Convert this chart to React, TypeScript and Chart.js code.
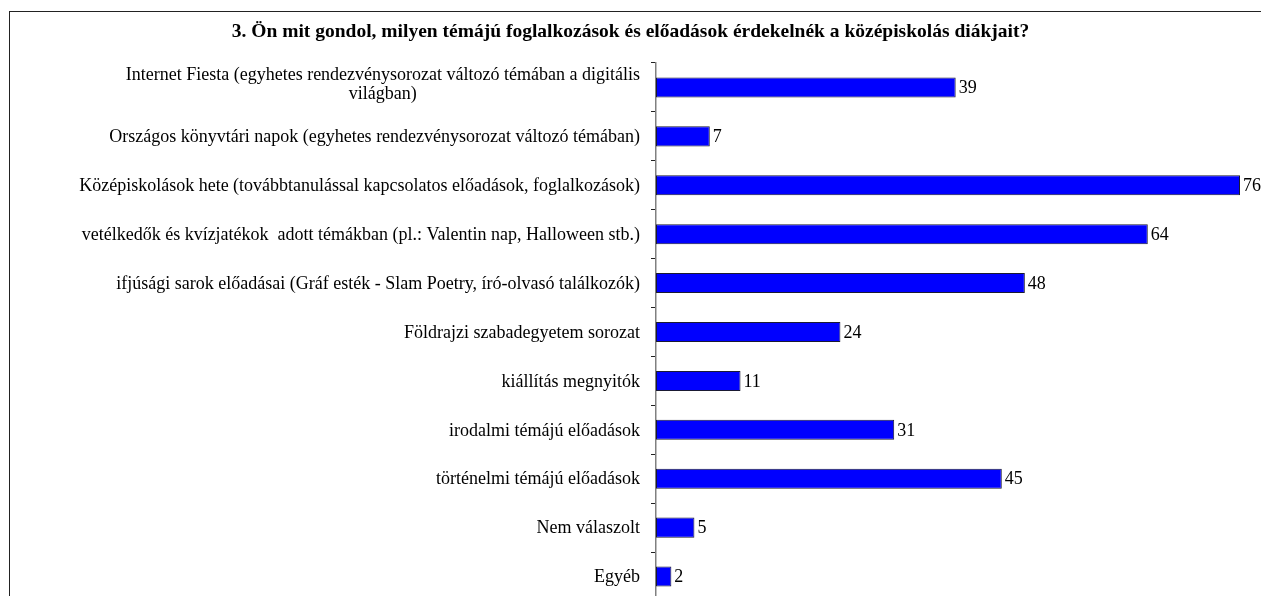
import React, { useEffect, useRef } from "react";
import { Chart, registerables } from "chart.js";

Chart.register(...registerables);

const titleText =
  "3. Ön mit gondol, milyen témájú foglalkozások és előadások érdekelnék a középiskolás diákjait?";

const categories: (string | string[])[] = [
  ["Internet Fiesta (egyhetes rendezvénysorozat változó témában a digitális", "világban)"],
  "Országos könyvtári napok (egyhetes rendezvénysorozat változó témában)",
  "Középiskolások hete (továbbtanulással kapcsolatos előadások, foglalkozások)",
  "vetélkedők és kvízjatékok  adott témákban (pl.: Valentin nap, Halloween stb.)",
  "ifjúsági sarok előadásai (Gráf esték - Slam Poetry, író-olvasó találkozók)",
  "Földrajzi szabadegyetem sorozat",
  "kiállítás megnyitók",
  "irodalmi témájú előadások",
  "történelmi témájú előadások",
  "Nem válaszolt",
  "Egyéb",
];

const values = [39, 7, 76, 64, 48, 24, 11, 31, 45, 5, 2];

const xMax = 76;
const FONT = "18px 'Liberation Serif', 'Times New Roman', serif";
const TITLE_FONT = "bold 19.5px 'Liberation Serif', 'Times New Roman', serif";

const decorPlugin = {
  id: "decor",
  beforeDraw(chart: any) {
    const ctx = chart.ctx;
    ctx.save();
    ctx.fillStyle = "#ffffff";
    ctx.fillRect(0, 0, chart.width, chart.height);
    ctx.strokeStyle = "#222222";
    ctx.lineWidth = 1;
    ctx.strokeRect(9.5, 11.5, chart.width + 20, chart.height + 20);
    ctx.fillStyle = "#000000";
    ctx.font = TITLE_FONT;
    ctx.textAlign = "center";
    ctx.textBaseline = "middle";
    ctx.fillText(titleText, 630.5, 32);
    ctx.restore();
  },
  afterDraw(chart: any) {
    const ctx = chart.ctx;
    const yScale = chart.scales.y;
    const meta = chart.getDatasetMeta(0);
    ctx.save();
    ctx.fillStyle = "#000000";
    ctx.font = FONT;
    ctx.textBaseline = "middle";
    const rightX = chart.chartArea.left - 16;
    const lineH = 19;
    categories.forEach((lab, i) => {
      const lines = Array.isArray(lab) ? lab : [lab];
      const widest = Math.max(...lines.map((l) => ctx.measureText(l).width));
      const cy = yScale.getPixelForValue(i);
      const startY =
        cy - ((lines.length - 1) * lineH) / 2 - (lines.length > 1 ? 3 : 0) + (lines.length > 1 ? 0 : 1);
      ctx.textAlign = "center";
      lines.forEach((l, j) => {
        ctx.fillText(l, rightX - widest / 2, startY + j * lineH);
      });
    });
    ctx.textAlign = "left";
    meta.data.forEach((bar: any, i: number) => {
      ctx.fillText(String(values[i]), bar.x + 3, bar.y + 1);
    });
    ctx.restore();
  },
};

export default function App() {
  const ref = useRef<HTMLCanvasElement | null>(null);
  useEffect(() => {
    document.body.style.margin = "0";
    const canvas = ref.current!;
    const chart = new Chart(canvas, {
      type: "bar",
      data: {
        labels: categories as any,
        datasets: [
          {
            data: values,
            backgroundColor: "#0000FF",
            borderColor: "#1a1a33",
            borderWidth: 1,
            borderSkipped: false,
            categoryPercentage: 1,
            barPercentage: 0.41,
          },
        ],
      },
      options: {
        indexAxis: "y",
        animation: false,
        responsive: false,
        maintainAspectRatio: false,
        events: [],
        layout: { padding: { top: 63, bottom: 19, left: 0, right: 21 } },
        plugins: {
          legend: { display: false },
          title: { display: false },
          tooltip: { enabled: false },
        },
        scales: {
          x: { display: false, min: 0, max: xMax },
          y: {
            afterFit: (s: any) => {
              s.width = 656;
            },
            ticks: { display: false },
            grid: {
              offset: true,
              drawOnChartArea: false,
              drawTicks: true,
              tickLength: 5,
              color: "#808080",
              tickColor: "#222222",
            },
            border: { display: true, color: "#808080", width: 1.5 },
          },
        },
      },
      plugins: [decorPlugin],
    });
    return () => chart.destroy();
  }, []);
  return (
    <div style={{ width: 1261, height: 596, overflow: "hidden", position: "relative" }}>
      <canvas ref={ref} width={1261} height={620} style={{ display: "block" }} />
    </div>
  );
}
